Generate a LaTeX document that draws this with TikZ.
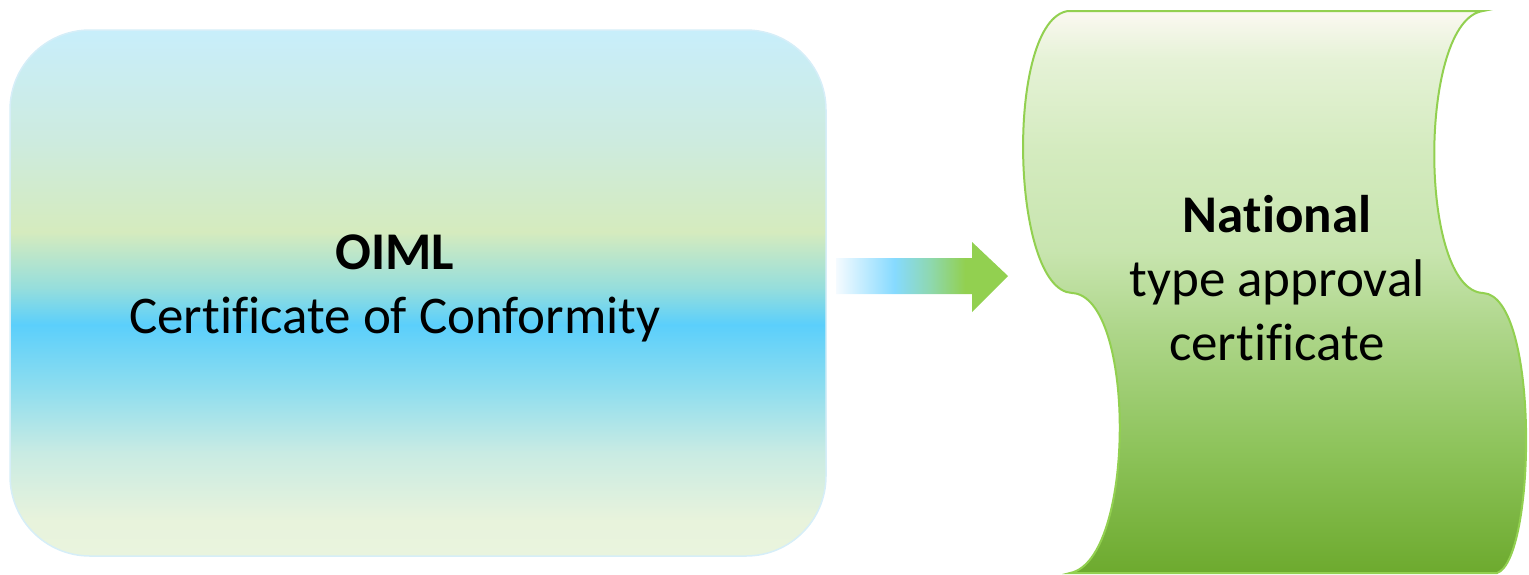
\documentclass[tikz,border=0pt]{standalone}
\usepackage{fontspec}
\setmainfont[Ligatures={NoCommon,NoContextual},RawFeature={-calt}]{Carlito}

\definecolor{oimlline}{HTML}{D6EEF8}
\definecolor{natline}{HTML}{92D050}

\pgfdeclareverticalshading{oimlfill}{100bp}{%
  color(0bp)=({rgb,255:red,233;green,244;blue,222});
  color(25bp)=({rgb,255:red,233;green,244;blue,222});
  color(28.4bp)=({rgb,255:red,232;green,243;blue,220});
  color(34.8bp)=({rgb,255:red,201;green,235;blue,227});
  color(41.1bp)=({rgb,255:red,141;green,221;blue,239});
  color(47bp)=({rgb,255:red,91;green,207;blue,251});
  color(50.5bp)=({rgb,255:red,150;green,222;blue,220});
  color(55.8bp)=({rgb,255:red,213;green,235;blue,190});
  color(64.5bp)=({rgb,255:red,205;green,235;blue,223});
  color(75bp)=({rgb,255:red,200;green,238;blue,251});
  color(100bp)=({rgb,255:red,200;green,238;blue,251})}

\pgfdeclareverticalshading{natfill}{100bp}{%
  color(0bp)=({rgb,255:red,109;green,170;blue,46});
  color(25bp)=({rgb,255:red,109;green,170;blue,46});
  color(35.9bp)=({rgb,255:red,141;green,195;blue,90});
  color(46.6bp)=({rgb,255:red,174;green,214;blue,138});
  color(53.7bp)=({rgb,255:red,200;green,229;blue,175});
  color(62.6bp)=({rgb,255:red,212;green,235;blue,191});
  color(70.6bp)=({rgb,255:red,229;green,242;blue,214});
  color(75bp)=({rgb,255:red,251;green,248;blue,241});
  color(100bp)=({rgb,255:red,251;green,248;blue,241})}

\pgfdeclarehorizontalshading{arrowfill}{100bp}{%
  color(0bp)=({rgb,255:red,245;green,251;blue,255});
  color(25bp)=({rgb,255:red,245;green,251;blue,255});
  color(42bp)=({rgb,255:red,134;green,218;blue,255});
  color(52.3bp)=({rgb,255:red,142;green,216;blue,176});
  color(62.5bp)=({rgb,255:red,146;green,208;blue,80});
  color(100bp)=({rgb,255:red,146;green,208;blue,80})}

\begin{document}
\begin{tikzpicture}[x=0.5pt,y=-0.5pt,
    cardtext/.style={align=center, inner sep=0pt, font=\fontsize{26.5}{32}\selectfont}]
    \useasboundingbox (0,0) rectangle (1529,574);

    % left card
    \node[draw=oimlline, line width=0.75pt, shading=oimlfill, rounded corners=40pt,
          minimum width=408pt, minimum height=263pt, inner sep=0pt] (oiml) at (418,293) {};
    \node[cardtext] (oimltext) at (395,288) {\textbf{OIML}\\Certificate of Conformity};

    % block arrow
    \path[shading=arrowfill] (836,258) -- (972,258) -- (972,242) -- (1008,276)
        -- (972,312) -- (972,294) -- (836,294) -- cycle;

    % scroll on the right
    \path[shading=natfill, draw=natline, line width=1pt]
        (1068,11) -- (1483,11)
        .. controls (1418,20) and (1418,290) .. (1483,293)
        .. controls (1540,296) and (1536,560) .. (1497,573)
        -- (1070,573)
        .. controls (1136,560) and (1136,296) .. (1072,293)
        .. controls (1010,290) and (1005,20) .. (1068,11) -- cycle;
    \node[cardtext] (nattext) at (1277,278) {\textbf{National}\\type approval\\certificate};
\end{tikzpicture}
\end{document}
